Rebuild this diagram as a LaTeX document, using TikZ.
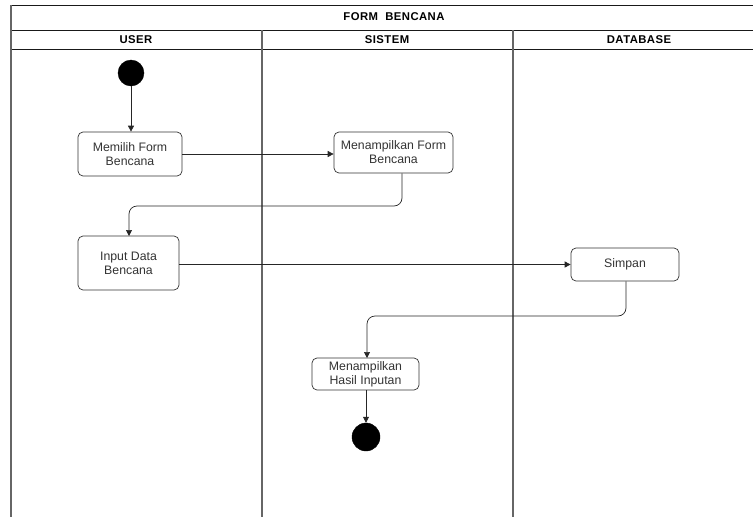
\documentclass[tikz,border=0pt]{standalone}
\usepackage{fontspec}
\setmainfont{Liberation Sans}
\usetikzlibrary{arrows.meta}
\definecolor{lanegray}{HTML}{666666}
\definecolor{txtgray}{HTML}{333333}
\tikzset{
  act/.style={draw=black!80, line width=0.7pt, rounded corners=5pt, align=center,
    font=\fontsize{12.3}{14}\selectfont, text=txtgray, inner sep=0pt},
  dot/.style={circle, fill=black, draw=black, minimum size=26pt, inner sep=0pt},
  flow/.style={draw=black!85, line width=0.7pt, -{Triangle[length=6pt,width=6pt]}, rounded corners=8pt},
  hdr/.style={font=\addfontfeatures{LetterSpace=4}\bfseries\fontsize{11.3}{13}\selectfont},
  hline/.style={line width=0.8pt, black!90},
  vline/.style={line width=1.8pt, lanegray}
}
\begin{document}
\begin{tikzpicture}[x=1pt,y=-1pt]
\useasboundingbox (0,0) rectangle (753,517);
% frame
\draw[hline] (11,5.5) -- (753,5.5);
\draw[hline] (11,30) -- (753,30);
\draw[hline] (11,49.5) -- (753,49.5);
\draw[vline] (11,5) -- (11,517);
\draw[vline] (262,30) -- (262,517);
\draw[vline] (513,30) -- (513,517);
\node[hdr] (title) at (394,17) {FORM\ \ BENCANA};
\node[hdr] (huser) at (136,40) {USER};
\node[hdr] (hsis) at (387,40) {SISTEM};
\node[hdr] (hdb) at (639,40) {DATABASE};
% nodes
\node[dot] (start) at (131,73) {};
\node[act, minimum width=104pt, minimum height=44pt] (memilih) at (130,154) {Memilih Form\\Bencana};
\node[act, minimum width=119pt, minimum height=41pt] (tampil) at (393.5,152.5) {Menampilkan Form\\Bencana};
\node[act, minimum width=101pt, minimum height=54pt] (input) at (128.5,263) {Input Data\\Bencana};
\node[act, minimum width=108pt, minimum height=33pt] (simpan) at (625,264.5) {Simpan};
\node[act, minimum width=107pt, minimum height=32pt] (hasil) at (365.5,374) {Menampilkan\\Hasil Inputan};
\node[dot, minimum size=28pt] (end) at (366,437) {};
% flows
\draw[flow] (start) -- (start |- memilih.north);
\draw[flow] (memilih.east) -- (tampil.west |- memilih.east);
\draw[flow] (tampil.south -| 402,0) -- (402,206) -- (129,206) -- (129,236);
\draw[flow] (input.east |- simpan.west) -- (simpan.west);
\draw[flow] (simpan.south -| 626,0) -- (626,316) -- (367,316) -- (367,358);
\draw[flow] (hasil.south -| 366,0) -- (end.north);
\end{tikzpicture}
\end{document}
